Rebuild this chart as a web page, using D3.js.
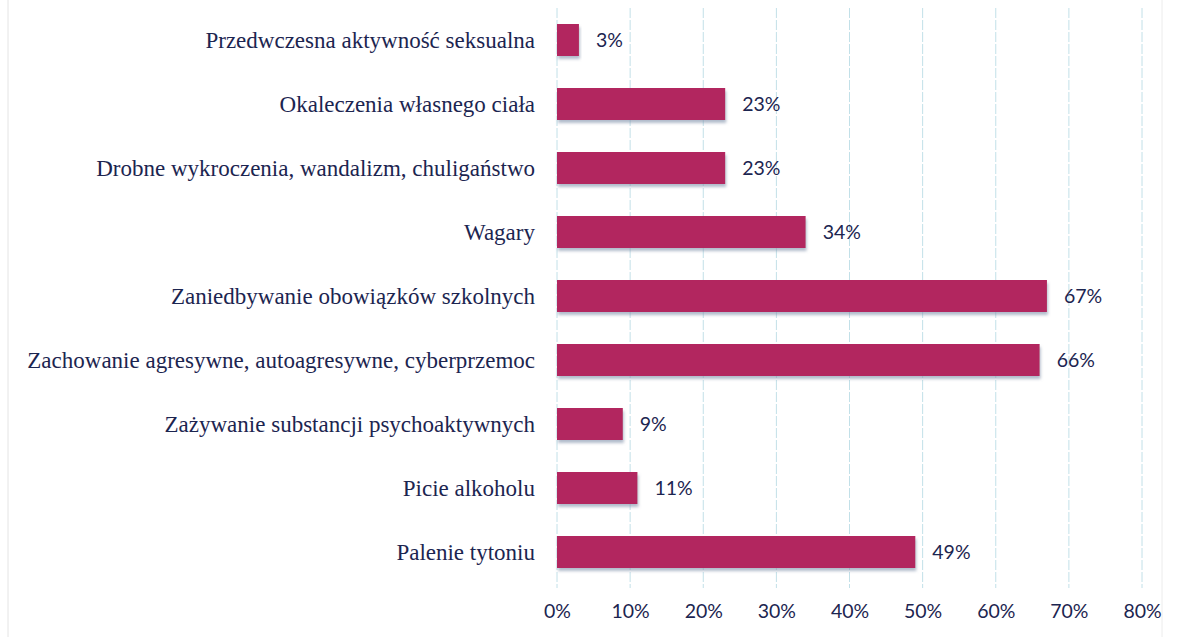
<!DOCTYPE html>
<html>
<head>
<meta charset="utf-8">
<script src="https://cdn.jsdelivr.net/npm/d3@7"></script>
<style>
html,body{margin:0;padding:0;background:#fff;}
svg{display:block;}
</style>
</head>
<body>
<svg id="chart" width="1184" height="637"></svg>
<script>
const categories = [
  "Przedwczesna aktywność seksualna",
  "Okaleczenia własnego ciała",
  "Drobne wykroczenia, wandalizm, chuligaństwo",
  "Wagary",
  "Zaniedbywanie obowiązków szkolnych",
  "Zachowanie agresywne, autoagresywne, cyberprzemoc",
  "Zażywanie substancji psychoaktywnych",
  "Picie alkoholu",
  "Palenie tytoniu"
];
const values = [3, 23, 23, 34, 67, 66, 9, 11, 49];
const tickValues = [0, 10, 20, 30, 40, 50, 60, 70, 80];

const svg = d3.select("#chart");
const x = d3.scaleLinear().domain([0, 80]).range([557, 1142]);
const y = d3.scaleBand().domain(categories).range([8, 584]).paddingInner(0.5).paddingOuter(0.25);

const defs = svg.append("defs");
const f = defs.append("filter").attr("id", "sh").attr("x", "-5%").attr("y", "-20%").attr("width", "115%").attr("height", "160%");
f.append("feDropShadow").attr("dx", 1).attr("dy", 3).attr("stdDeviation", 1.5).attr("flood-color", "#7f8fa8").attr("flood-opacity", 0.6);

// faint page borders
svg.append("line").attr("x1", 8).attr("x2", 8).attr("y1", 0).attr("y2", 637).attr("stroke", "#e4e4e4").attr("stroke-width", 1);
svg.append("line").attr("x1", 1162).attr("x2", 1162).attr("y1", 0).attr("y2", 637).attr("stroke", "#ececec").attr("stroke-width", 1);

// gridlines
svg.append("g").selectAll("line").data(tickValues).join("line")
  .attr("x1", d => x(d)).attr("x2", d => x(d))
  .attr("y1", 8).attr("y2", 588)
  .attr("stroke", "#c2e0e8").attr("stroke-width", 1)
  .attr("stroke-dasharray", "10,2");

// bars
svg.append("g").selectAll("rect").data(values).join("rect")
  .attr("x", x(0))
  .attr("y", (d, i) => y(categories[i]))
  .attr("width", d => x(d) - x(0))
  .attr("height", y.bandwidth())
  .attr("fill", "#b2265f")
  .attr("filter", "url(#sh)");

// value labels
svg.append("g").selectAll("text").data(values).join("text")
  .attr("x", d => x(d) + 17)
  .attr("y", (d, i) => y(categories[i]) + y.bandwidth() / 2)
  .attr("dy", "0.35em")
  .attr("font-family", "Lato, 'Open Sans', sans-serif")
  .attr("font-size", 19.5)
  .attr("fill", "#1c2550")
  .text(d => d + "%");

// category labels
svg.append("g").selectAll("text").data(categories).join("text")
  .attr("x", 535)
  .attr("y", d => y(d) + y.bandwidth() / 2)
  .attr("dy", "0.33em")
  .attr("text-anchor", "end")
  .attr("font-family", "'Liberation Serif', 'Times New Roman', serif")
  .attr("font-size", 23)
  .attr("fill", "#1c2550")
  .text(d => d);

// x axis
const xAxis = d3.axisBottom(x).tickValues(tickValues).tickFormat(d => d + "%").tickSize(0).tickPadding(0);
const ax = svg.append("g").attr("transform", "translate(0,604)").call(xAxis);
ax.select(".domain").remove();
ax.selectAll("text")
  .attr("font-family", "Lato, 'Open Sans', sans-serif")
  .attr("font-size", 19.5)
  .attr("fill", "#1c2550");
</script>
</body>
</html>
